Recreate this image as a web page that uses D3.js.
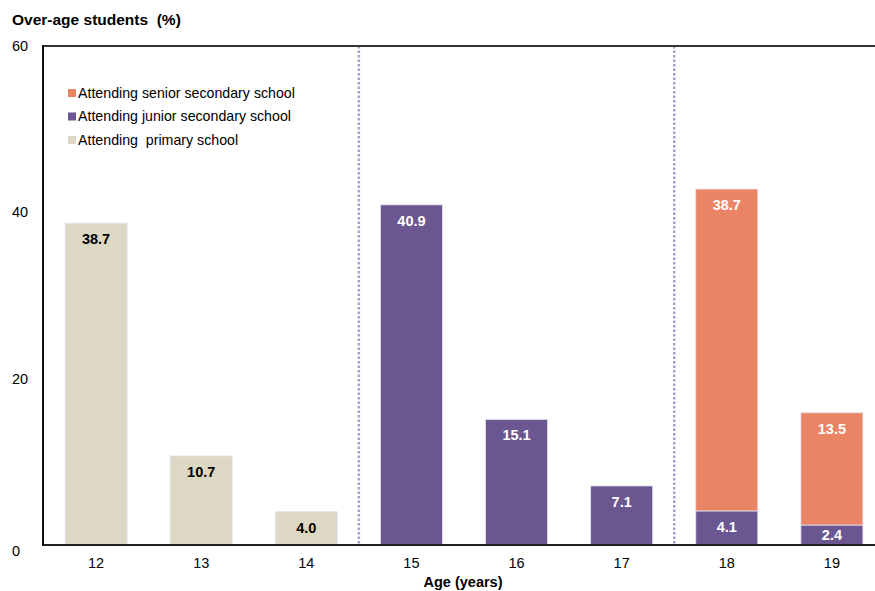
<!DOCTYPE html>
<html>
<head>
<meta charset="utf-8">
<script src="https://cdn.jsdelivr.net/npm/d3@7"></script>
<style>
  body { margin: 0; background: #fff; }
  svg { font-family: "Liberation Sans", Arial, sans-serif; }
</style>
</head>
<body>
<svg id="chart" width="875" height="591"></svg>
<script>
const ages = ["12", "13", "14", "15", "16", "17", "18", "19"];
const primary = [38.7, 10.7, 4.0, 0, 0, 0, 0, 0];
const junior = [0, 0, 0, 40.9, 15.1, 7.1, 4.1, 2.4];
const senior = [0, 0, 0, 0, 0, 0, 38.7, 13.5];
const yTicks = [0, 20, 40, 60];
const seriesNames = ["Attending  primary school", "Attending junior secondary school", "Attending senior secondary school"];
const dividers = [["14", "15"], ["17", "18"]];

const colors = { primary: "#ddd8c3", junior: "#6a5791", senior: "#e98465" };
const labelColors = { primary: "#000", junior: "#fff", senior: "#fff" };

const rows = ages.map((a, i) => ({ age: a, primary: primary[i], junior: junior[i], senior: senior[i] }));
const keys = ["primary", "junior", "senior"];

const margin = { top: 46, left: 43, bottom: 46 };
const width = 875, height = 591;

const svg = d3.select("#chart");

const x = d3.scaleBand()
  .domain(ages)
  .range([margin.left, 885])
  .paddingInner(0.41)
  .paddingOuter(0.21);

const y = d3.scaleLinear()
  .domain([0, 60])
  .range([height - margin.bottom, margin.top]);

const stacked = d3.stack().keys(keys)(rows);

// bars
svg.append("g")
  .selectAll("g")
  .data(stacked)
  .enter().append("g")
  .attr("fill", d => colors[d.key])
  .selectAll("rect")
  .data(d => d.filter(s => s[1] - s[0] > 0))
  .enter().append("rect")
  .attr("x", d => x(d.data.age))
  .attr("y", d => y(d[1]))
  .attr("width", x.bandwidth())
  .attr("height", d => y(d[0]) - y(d[1]))
  .attr("stroke", "#e6e1f0")
  .attr("stroke-width", 0.8);

// value labels, near the top of each segment
stacked.forEach(layer => {
  svg.append("g")
    .selectAll("text")
    .data(layer.filter(s => s[1] - s[0] > 0))
    .enter().append("text")
    .attr("x", d => x(d.data.age) + x.bandwidth() / 2)
    .attr("y", d => Math.min(y(d[1]) + 16, (y(d[0]) + y(d[1])) / 2))
    .attr("dy", "0.35em")
    .attr("text-anchor", "middle")
    .attr("font-size", 14.5)
    .attr("font-weight", "bold")
    .attr("fill", labelColors[layer.key])
    .text(d => (d[1] - d[0]).toFixed(1));
});

// dotted dividers
dividers.forEach(([a, b]) => {
  const xd = (x(a) + x.bandwidth() + x(b)) / 2;
  svg.append("line")
    .attr("x1", xd).attr("x2", xd)
    .attr("y1", y(60)).attr("y2", y(0))
    .attr("stroke", "#ab9bd0")
    .attr("stroke-width", 2.5)
    .attr("stroke-dasharray", "2.5,2");
});

// frame: left axis, bottom axis, top line
svg.append("line")
  .attr("x1", margin.left).attr("x2", width)
  .attr("y1", y(0)).attr("y2", y(0))
  .attr("stroke", "#222").attr("stroke-width", 2);
svg.append("line")
  .attr("x1", margin.left).attr("x2", width)
  .attr("y1", y(60)).attr("y2", y(60))
  .attr("stroke", "#333").attr("stroke-width", 2);
svg.append("line")
  .attr("x1", margin.left).attr("x2", margin.left)
  .attr("y1", y(60) - 1).attr("y2", y(0) + 1)
  .attr("stroke", "#111").attr("stroke-width", 2);

// y tick labels
svg.append("g")
  .selectAll("text")
  .data(yTicks)
  .enter().append("text")
  .attr("x", 12)
  .attr("y", d => y(d) + (d === 0 ? 6 : 0))
  .attr("dy", "0.35em")
  .attr("font-size", 14.5)
  .attr("fill", "#000")
  .text(d => d);

// x tick labels
svg.append("g")
  .selectAll("text")
  .data(ages)
  .enter().append("text")
  .attr("x", d => x(d) + x.bandwidth() / 2)
  .attr("y", 563)
  .attr("dy", "0.35em")
  .attr("text-anchor", "middle")
  .attr("font-size", 14.5)
  .attr("fill", "#000")
  .text(d => d);

// titles
svg.append("text")
  .attr("x", 12).attr("y", 25)
  .attr("font-size", 15.5).attr("font-weight", "bold")
  .style("white-space", "pre")
  .text("Over-age students  (%)");

svg.append("text")
  .attr("x", 463).attr("y", 587)
  .attr("text-anchor", "middle")
  .attr("font-size", 14.5).attr("font-weight", "bold")
  .text("Age (years)");

// legend
const legendKeys = ["senior", "junior", "primary"];
const legendNames = [seriesNames[2], seriesNames[1], seriesNames[0]];
const legend = svg.append("g");
legendKeys.forEach((k, i) => {
  const ly = 93 + i * 23.5;
  legend.append("rect")
    .attr("x", 68).attr("y", ly - 4)
    .attr("width", 8).attr("height", 8)
    .attr("fill", colors[k]);
  legend.append("text")
    .attr("x", 78).attr("y", ly)
    .attr("dy", "0.35em")
    .attr("font-size", 14.2)
    .style("white-space", "pre")
    .text(legendNames[i]);
});
</script>
</body>
</html>
